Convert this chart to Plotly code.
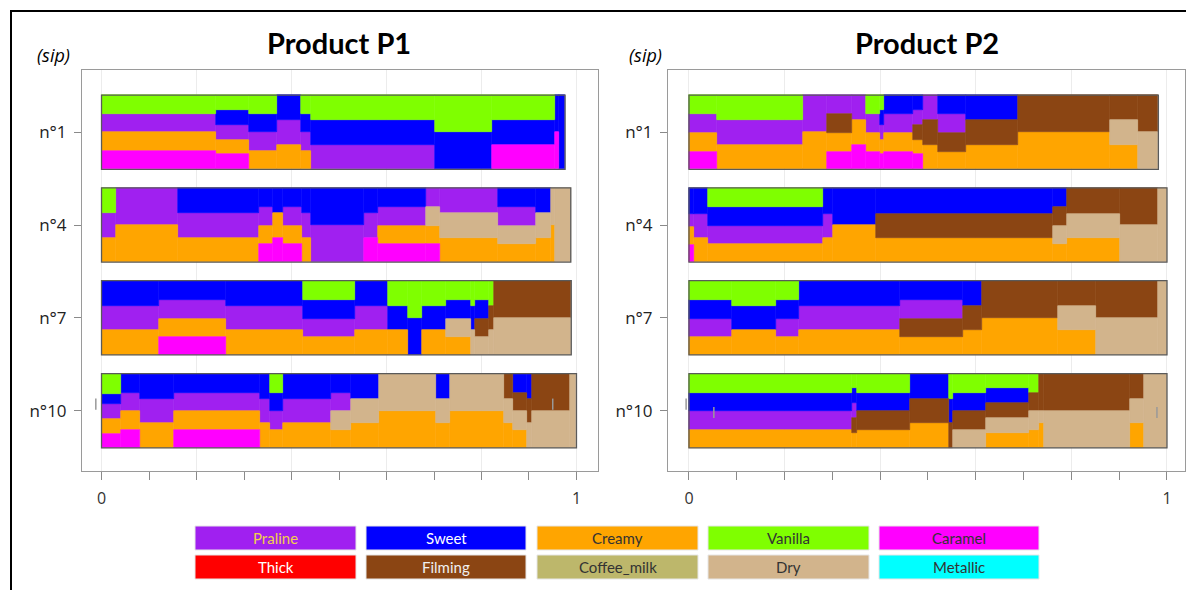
import plotly.graph_objects as go

# ---------------- data ----------------
ATTR_NAMES = ["Praline", "Sweet", "Creamy", "Vanilla", "Caramel",
              "Thick", "Filming", "Coffee_milk", "Dry", "Metallic"]
ATTR_CODES = ["P", "S", "C", "V", "M", "T", "F", "K", "D", "X"]
ATTR_COLORS = ["#A020F0", "#0000FF", "#FFA500", "#7FFF00", "#FF00FF",
               "#FF0000", "#8B4513", "#BDB76B", "#D2B48C", "#00FFFF"]
LEGEND_TEXT_COLORS = ["#F2D04A", "#FFFFFF", "#333333", "#333333", "#333333",
                      "#FFFFFF", "#F0F0F0", "#333333", "#333333", "#333333"]

SIP_LABELS = ["n°1", "n°4", "n°7", "n°10"]
SIP_POS = [3, 2, 1, 0]

# Product P1 ------------------------------------------------------------
P1_SIP1_T = [0, 0.240, 0.310, 0.370, 0.421, 0.442, 0.703, 0.822, 0.955, 0.963, 0.976]
P1_SIP1_A = ["VPCM", "VSPCM", "VSPC", "SPC", "VSPC", "VSP", "VS", "VSM", "SM", "S"]
P1_SIP1_V = [[25, 25, 25, 25], [20, 20, 20, 20, 20], [25, 25, 25, 25], [33, 34, 33],
             [25, 25, 25, 25], [33, 34, 33], [50, 50], [33, 34, 33], [50, 50], [100]]

P1_SIP4_T = [0, 0.030, 0.161, 0.331, 0.362, 0.382, 0.422, 0.442, 0.553, 0.583, 0.684,
             0.713, 0.834, 0.914, 0.946, 0.955, 0.988]
P1_SIP4_A = ["VPC", "PC", "SPC", "SPCM", "SCM", "SPCM", "SPC", "SP", "SPM", "SPCM",
             "PDCM", "PDC", "SPDC", "SDC", "DC", "D"]
P1_SIP4_V = [[34, 33, 33], [50, 50], [34, 33, 33], [26, 25, 25, 24], [34, 33, 33],
             [26, 25, 25, 24], [34, 33, 33], [50, 50], [34, 33, 33], [26, 25, 25, 24],
             [26, 25, 25, 24], [34, 33, 33], [26, 25, 25, 24], [34, 33, 33], [50, 50], [100]]

P1_SIP7_T = [0, 0.121, 0.262, 0.424, 0.534, 0.604, 0.645, 0.674, 0.725, 0.777, 0.786,
             0.815, 0.826, 0.989]
P1_SIP7_A = ["SPC", "SPCM", "SPC", "VSPC", "SPC", "VSC", "VS", "VSC", "VSDC", "VSD",
             "VSFD", "VFD", "FD"]
P1_SIP7_V = [[34, 33, 33], [26, 25, 25, 24], [34, 33, 33], [26, 25, 25, 24], [34, 33, 33],
             [34, 33, 33], [50, 50], [34, 33, 33], [26, 25, 25, 24], [34, 33, 33],
             [26, 25, 25, 24], [34, 33, 33], [50, 50]]

P1_SIP10_T = [0, 0.042, 0.081, 0.152, 0.333, 0.354, 0.383, 0.484, 0.525, 0.584, 0.705,
              0.734, 0.847, 0.866, 0.896, 0.907, 0.986, 1.0]
P1_SIP10_A = ["VSPCM", "SPCM", "SPC", "SPCM", "SPC", "VSPC", "SPC", "SPDC", "SDC", "DC",
              "SDC", "DC", "FDC", "SFDC", "SFD", "FD", "D"]
P1_SIP10_V = [[27, 14, 20, 20, 19], [26, 25, 25, 24], [34, 33, 33], [26, 25, 25, 24],
              [34, 33, 33], [26, 25, 25, 24], [34, 33, 33], [26, 25, 25, 24], [34, 33, 33],
              [50, 50], [34, 33, 33], [50, 50], [34, 33, 33], [26, 25, 25, 24],
              [34, 33, 33], [50, 50], [100]]

# Product P2 ------------------------------------------------------------
P2_SIP1_T = [0, 0.059, 0.239, 0.289, 0.340, 0.370, 0.400, 0.409, 0.469, 0.490, 0.520,
             0.580, 0.689, 0.881, 0.940, 0.982]
P2_SIP1_A = ["VPCM", "VPC", "PC", "PFCM", "PCM", "VPCM", "VSPCM", "SPCM", "SPFCM", "PFC",
             "SPFC", "SFC", "FC", "FDC", "FD"]
P2_SIP1_V = [[26, 25, 25, 24], [34, 33, 33], [50, 50], [26, 25, 25, 24], [34, 33, 33],
             [26, 25, 25, 24], [20, 20, 20, 20, 20], [26, 25, 25, 24], [20, 20, 20, 20, 20],
             [34, 33, 33], [26, 25, 25, 24], [34, 33, 33], [50, 50], [34, 33, 33], [50, 50]]

P2_SIP4_T = [0, 0.011, 0.040, 0.281, 0.301, 0.391, 0.761, 0.790, 0.902, 0.982, 1.0]
P2_SIP4_A = ["SPCM", "SPC", "VSPC", "SPC", "SC", "SFC", "SFDC", "FDC", "FD", "D"]
P2_SIP4_V = [[35, 17, 25, 23], [35, 33, 32], [26, 25, 25, 24], [35, 33, 32], [50, 50],
             [35, 33, 32], [26, 25, 25, 24], [35, 33, 32], [50, 50], [100]]

P2_SIP7_T = [0, 0.091, 0.182, 0.231, 0.441, 0.573, 0.612, 0.773, 0.852, 0.982, 1.0]
P2_SIP7_A = ["VSPC", "VSC", "VSPC", "SPC", "SPFC", "SFC", "FC", "FDC", "FD", "D"]
P2_SIP7_V = [[26, 25, 25, 24], [34, 33, 33], [26, 25, 25, 24], [34, 33, 33],
             [26, 25, 25, 24], [34, 33, 33], [50, 50], [34, 33, 33], [50, 50], [100]]

P2_SIP10_T = [0, 0.342, 0.351, 0.462, 0.543, 0.552, 0.621, 0.712, 0.733, 0.743, 0.923,
              0.952, 1.0]
P2_SIP10_A = ["VSPC", "VSPFC", "VSFC", "SFC", "VSF", "VSFD", "VSFDC", "VFDC", "FDC", "FD",
              "FDC", "D"]
P2_SIP10_V = [[26, 25, 25, 24], [20, 20, 20, 20, 20], [26, 25, 25, 24], [34, 33, 33],
              [34, 33, 33], [26, 25, 25, 24], [20, 20, 20, 20, 20], [26, 25, 25, 24],
              [50, 17, 33], [50, 50], [34, 33, 33], [100]]

# small grey marks seen near the last sip (time, offset from band centre)
P1_MARK_T = [-0.012, 0.950]
P1_MARK_Y = [0.07, 0.07]
P2_MARK_T = [-0.006, 0.052, 0.979]
P2_MARK_Y = [0.07, -0.02, -0.02]

PANELS = [
    ("Product P1", [(P1_SIP1_T, P1_SIP1_A, P1_SIP1_V), (P1_SIP4_T, P1_SIP4_A, P1_SIP4_V),
                    (P1_SIP7_T, P1_SIP7_A, P1_SIP7_V), (P1_SIP10_T, P1_SIP10_A, P1_SIP10_V)],
     (P1_MARK_T, P1_MARK_Y)),
    ("Product P2", [(P2_SIP1_T, P2_SIP1_A, P2_SIP1_V), (P2_SIP4_T, P2_SIP4_A, P2_SIP4_V),
                    (P2_SIP7_T, P2_SIP7_A, P2_SIP7_V), (P2_SIP10_T, P2_SIP10_A, P2_SIP10_V)],
     (P2_MARK_T, P2_MARK_Y)),
]

# ---------------- figure ----------------
W, Hpx = 1186, 590
BAND_H = 0.8
color_of = dict(zip(ATTR_CODES, ATTR_COLORS))
name_of = dict(zip(ATTR_CODES, ATTR_NAMES))

fig = go.Figure()
shapes = []
annotations = []

for pi, (title, sips, marks) in enumerate(PANELS):
    xa = "x" if pi == 0 else "x2"
    ya = "y" if pi == 0 else "y2"
    buckets = {c: {"x": [], "w": [], "b": [], "h": []} for c in ATTR_CODES}
    for (T, A, V), yc in zip(sips, SIP_POS):
        top = yc + BAND_H / 2
        for i in range(len(A)):
            t0, t1 = T[i], T[i + 1]
            tot = float(sum(V[i]))
            cum = 0.0
            for code, val in zip(A[i], V[i]):
                h = val / tot * BAND_H
                bk = buckets[code]
                bk["x"].append((t0 + t1) / 2)
                bk["w"].append(t1 - t0)
                bk["b"].append(top - cum - h)
                bk["h"].append(h)
                cum += h
        shapes.append(dict(type="rect", xref=xa, yref=ya, x0=T[0], x1=T[-1],
                           y0=yc - BAND_H / 2, y1=yc + BAND_H / 2,
                           line=dict(color="#5a5a5a", width=1.3), layer="above"))
    for code in ATTR_CODES:
        bk = buckets[code]
        if not bk["x"]:
            continue
        fig.add_trace(go.Bar(
            x=bk["x"], y=bk["h"], base=bk["b"], width=bk["w"],
            marker=dict(color=color_of[code], line=dict(color=color_of[code], width=0.6)),
            name=name_of[code], showlegend=False, xaxis=xa, yaxis=ya,
            hovertemplate=name_of[code] + "<extra></extra>"))
    mt, my = marks
    fig.add_trace(go.Scatter(
        x=mt, y=my, mode="markers", xaxis=xa, yaxis=ya, showlegend=False,
        marker=dict(symbol="line-ns", size=8, line=dict(color="#999999", width=1.5)),
        hoverinfo="skip"))

# axes
x_common = dict(
    tickvals=[0, 0.2, 0.4, 0.6, 0.8, 1.0], ticktext=["0", "", "", "", "", "1"],
    ticks="outside", ticklen=8, tickcolor="#8a8a8a", tickwidth=1,
    minor=dict(tickvals=[0.1, 0.3, 0.5, 0.7, 0.9], ticks="outside", ticklen=8,
               tickcolor="#8a8a8a", showgrid=False),
    showgrid=True, gridcolor="#ececec", gridwidth=1, zeroline=False,
    showline=True, mirror=True, linecolor="#9a9a9a", linewidth=1,
    ticklabelstandoff=5,
    tickfont=dict(family="Open Sans, Arial", size=16, color="#333333"),
    fixedrange=True)
y_common = dict(
    range=[-0.65, 3.67], tickvals=SIP_POS, ticktext=SIP_LABELS,
    ticks="outside", ticklen=7, tickcolor="#8a8a8a",
    showgrid=False, zeroline=False, showline=True, mirror=True,
    linecolor="#9a9a9a", linewidth=1, domain=[1 - 471 / Hpx, 1 - 70 / Hpx],
    ticklabelstandoff=4,
    tickfont=dict(family="Open Sans, Arial", size=17, color="#222222"),
    fixedrange=True)

fig.update_layout(
    xaxis=dict(x_common, domain=[82 / W, 598 / W], range=[-0.0411, 1.0453], anchor="y"),
    xaxis2=dict(x_common, domain=[668 / W, 1185 / W], range=[-0.0439, 1.0377], anchor="y2"),
    yaxis=dict(y_common, anchor="x"),
    yaxis2=dict(y_common, anchor="x2"),
)

# titles and "(sip)"
for cx, sx, title in [(339, 53, "Product P1"), (927, 645, "Product P2")]:
    annotations.append(dict(xref="paper", yref="paper", x=cx / W, y=1 - 43 / Hpx,
                            text="<b>" + title + "</b>", showarrow=False,
                            font=dict(family="Lato, Open Sans", size=29, color="#000000"),
                            xanchor="center", yanchor="middle"))
    annotations.append(dict(xref="paper", yref="paper", x=sx / W, y=1 - 55 / Hpx,
                            text="<i>(sip)</i>", showarrow=False,
                            font=dict(family="Open Sans, Arial", size=18, color="#000000"),
                            xanchor="center", yanchor="middle"))

# legend boxes
col_x = [(195, 356), (366, 526), (537, 698), (708, 869), (879, 1039)]
row_y = [(526, 550), (555, 579)]
for k, (nm, colr, tcol) in enumerate(zip(ATTR_NAMES, ATTR_COLORS, LEGEND_TEXT_COLORS)):
    r, c = divmod(k, 5)
    x0, x1 = col_x[c]
    y0, y1 = row_y[r]
    shapes.append(dict(type="rect", xref="paper", yref="paper",
                       x0=x0 / W, x1=x1 / W, y0=1 - y1 / Hpx, y1=1 - y0 / Hpx,
                       fillcolor=colr, line=dict(color="#e6e6e6", width=1)))
    annotations.append(dict(xref="paper", yref="paper", x=(x0 + x1) / 2 / W,
                            y=1 - (y0 + y1) / 2 / Hpx, text=nm, showarrow=False,
                            font=dict(family="Lato, Open Sans", size=15, color=tcol),
                            xanchor="center", yanchor="middle"))

# outer border (top and left visible)
shapes.append(dict(type="rect", xref="paper", yref="paper",
                   x0=11 / W, x1=1200 / W, y0=-0.05, y1=1 - 11 / Hpx,
                   line=dict(color="#000000", width=2), fillcolor="rgba(0,0,0,0)"))

fig.update_layout(
    width=W, height=Hpx, margin=dict(l=0, r=0, t=0, b=0),
    paper_bgcolor="white", plot_bgcolor="white",
    barmode="overlay", bargap=0, showlegend=False,
    shapes=shapes, annotations=annotations,
)

fig.write_html("out.html",
               config={"displayModeBar": False},
               post_script="document.body.style.margin='0';"
                           "document.body.style.overflow='hidden';")
